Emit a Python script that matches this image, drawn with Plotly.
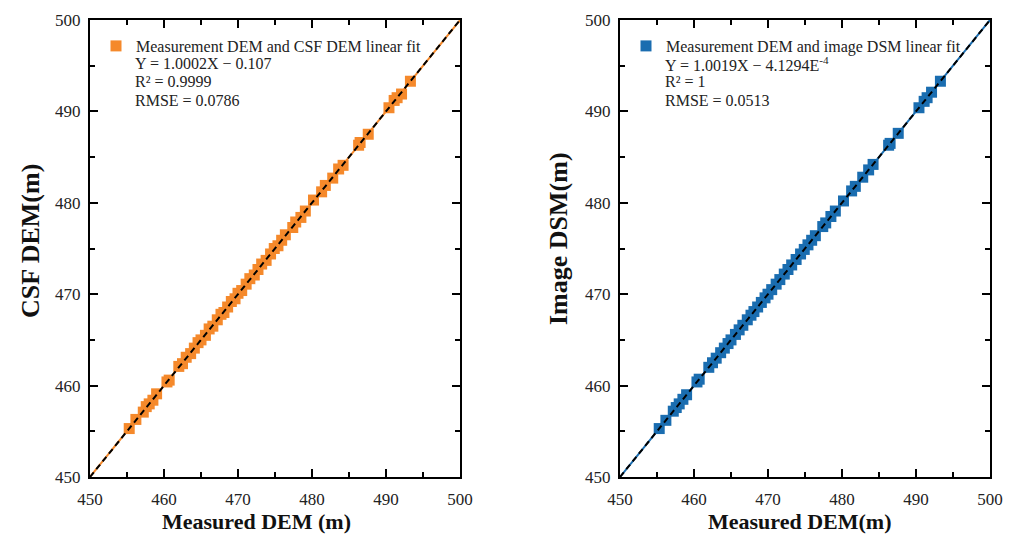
import numpy as np
import plotly.graph_objects as go

# Measured elevations (m) and the two derived surfaces at the same check points
measured = [455.3, 456.2, 457.2, 457.6, 458.0, 458.5, 459.0, 460.4, 460.7, 462.0,
            462.5, 463.0, 463.6, 464.1, 464.6, 465.0, 465.6, 466.1, 466.6, 467.2,
            467.7, 468.1, 468.6, 469.1, 469.6, 470.0, 470.5, 471.1, 471.6, 472.2,
            472.7, 473.2, 473.8, 474.4, 474.9, 475.4, 475.9, 476.4, 477.4, 477.8,
            478.5, 479.1, 480.2, 481.3, 481.8, 482.8, 483.6, 484.2, 486.3, 486.5,
            487.6, 490.4, 491.1, 491.5, 492.1, 493.3]
csf_dem = [455.3, 456.3, 457.1, 457.7, 458.0, 458.4, 459.1, 460.4, 460.6, 462.1,
           462.4, 463.1, 463.5, 464.1, 464.7, 465.0, 465.5, 466.2, 466.5, 467.2,
           467.8, 468.0, 468.6, 469.2, 469.5, 470.1, 470.4, 471.1, 471.7, 472.1,
           472.7, 473.3, 473.7, 474.4, 475.0, 475.3, 475.9, 476.5, 477.3, 477.9,
           478.4, 479.1, 480.3, 481.2, 481.9, 482.7, 483.7, 484.1, 486.3, 486.6,
           487.5, 490.4, 491.2, 491.5, 491.9, 493.3]
image_dsm = [455.3, 456.2, 457.2, 457.6, 458.0, 458.5, 459.0, 460.4, 460.7, 462.0,
             462.5, 463.0, 463.6, 464.1, 464.6, 465.0, 465.6, 466.1, 466.6, 467.2,
             467.7, 468.1, 468.6, 469.1, 469.6, 470.0, 470.5, 471.1, 471.6, 472.2,
             472.7, 473.2, 473.8, 474.4, 474.9, 475.4, 475.9, 476.4, 477.4, 477.8,
             478.5, 479.1, 480.2, 481.3, 481.8, 482.8, 483.6, 484.2, 486.3, 486.5,
             487.6, 490.4, 491.1, 491.5, 492.1, 493.3]

axis_range = [450, 500]
tick_vals = [450, 460, 470, 480, 490, 500]

orange = "#F5892B"
blue = "#1A6DB0"
serif = "Liberation Serif, Times New Roman, serif"

fig = go.Figure()

def add_panel(xa, ya, yvals, color, name, legend):
    # least-squares line through the plotted points, drawn across the full axis
    slope, icpt = np.polyfit(measured, yvals, 1)
    fit_x = np.array(axis_range, dtype=float)
    fit_y = slope * fit_x + icpt
    fig.add_trace(go.Scatter(x=measured, y=yvals, mode="markers", xaxis=xa, yaxis=ya,
                             marker=dict(symbol="square", size=11, color=color),
                             name=name, legend=legend, showlegend=True))
    fig.add_trace(go.Scatter(x=fit_x, y=fit_y, mode="lines", xaxis=xa, yaxis=ya,
                             line=dict(color=color, width=2), showlegend=False))
    fig.add_trace(go.Scatter(x=axis_range, y=axis_range, mode="lines", xaxis=xa, yaxis=ya,
                             line=dict(color="black", width=2, dash="6px,4px"),
                             showlegend=False))

add_panel("x", "y", csf_dem, orange, "Measurement DEM and CSF DEM linear fit", "legend")
add_panel("x2", "y2", image_dsm, blue, "Measurement DEM and image DSM linear fit", "legend2")

W, H = 1016, 534
ydom = [1 - 477 / H, 1 - 20 / H]

def axis(domain, anchor, is_x):
    return dict(domain=domain, range=axis_range, anchor=anchor, automargin=False,
                tickvals=tick_vals, ticks="inside", ticklen=8, tickwidth=1.5,
                tickcolor="black", showline=True, linecolor="black", linewidth=2,
                mirror="ticks", showgrid=False, zeroline=False,
                ticklabelstandoff=6 if is_x else 4,
                minor=dict(ticks="inside", ticklen=5, tickwidth=1.5,
                           tickcolor="black", dtick=5, showgrid=False),
                tickfont=dict(family=serif, size=17, color="#222"))

leg_common = dict(font=dict(family=serif, size=16, color="#222"),
                  bgcolor="rgba(0,0,0,0)", xanchor="left", yanchor="middle",
                  itemwidth=30, tracegroupgap=0)

fig.update_layout(
    width=W, height=H, margin=dict(l=0, r=0, t=0, b=0, autoexpand=False),
    plot_bgcolor="white", paper_bgcolor="white",
    xaxis=axis([90 / W, 460 / W], "y", True),
    yaxis=axis(ydom, "x", False),
    xaxis2=axis([620 / W, 990 / W], "y2", True),
    yaxis2=axis(ydom, "x2", False),
    legend=dict(x=96 / W, y=1 - 46 / H, **leg_common),
    legend2=dict(x=626 / W, y=1 - 46 / H, **leg_common),
)

# Axis titles
titles = [
    ("<b>Measured DEM (m)</b>", 256, 521, 0, 22),
    ("<b>Measured DEM(m)</b>", 800, 521, 0, 22),
    ("<b>CSF DEM(m)</b>", 30, 241, -90, 26),
    ("<b>Image DSM(m)</b>", 558, 239, -90, 26),
]
for txt, px, py, ang, fs in titles:
    fig.add_annotation(x=px / W, y=1 - py / H, xref="paper", yref="paper",
                       xanchor="center", yanchor="middle", showarrow=False,
                       text=txt, textangle=ang, borderpad=0,
                       font=dict(family=serif, size=fs, color="#111"))

# Fit statistics below each legend entry
stats = [
    (133, ["Y = 1.0002X − 0.107", "R² = 0.9999", "RMSE = 0.0786"]),
    (663, ["Y = 1.0019X − 4.1294E<sup>-4</sup>", "R² = 1", "RMSE = 0.0513"]),
]
for x0, lines in stats:
    for i, txt in enumerate(lines):
        fig.add_annotation(x=x0 / W, y=1 - (64 + 18 * i) / H, xref="paper", yref="paper",
                           xanchor="left", yanchor="middle", showarrow=False, text=txt,
                           font=dict(family=serif, size=16, color="#222"))

fig.write_html("out.html")
